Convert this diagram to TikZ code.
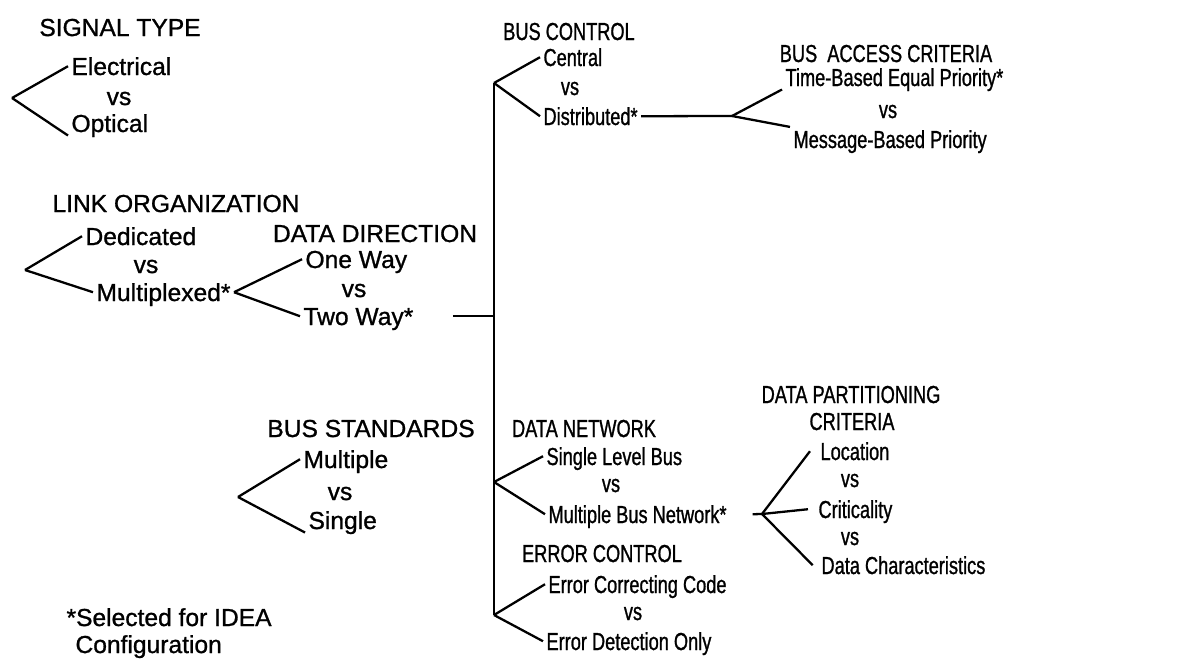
\documentclass[tikz,border=0pt]{standalone}
\usepackage{fontspec}
\setmainfont[FakeBold=1]{Liberation Sans}
\newfontfamily\narrowfont[FakeStretch=0.74,FakeBold=1]{Liberation Sans}
\usepackage{tikz}

\begin{document}
\begin{tikzpicture}
[x=0.02cm,y=-0.02cm,
  lineDecorate/.style={-,line width=1.3pt},%
  textDecorate/.style={inner sep=0pt,outer sep=2pt,text height=10pt,text depth=0pt,
    font=\fontsize{14}{17}\selectfont},
  narrowDecorate/.style={textDecorate,font=\narrowfont\fontsize{14}{17}\selectfont},
  lhead/.style={textDecorate,anchor=base},
  lopt/.style={textDecorate,anchor=base west},
  rhead/.style={narrowDecorate,anchor=base},
  ropt/.style={narrowDecorate,anchor=base west}]
\useasboundingbox (0,0) rectangle (1196,663);
%% headings, options and vs
\foreach \nodename/\x/\y/\sty/\txt in {
  sigtype/120/36/lhead/SIGNAL TYPE,
  elec/68/75/lopt/Electrical,
  vsA/119/105/lhead/vs,
  opt/68/132/lopt/Optical,
  linkorg/176/212/lhead/LINK ORGANIZATION,
  ded/82/245/lopt/Dedicated,
  vsB/146/273/lhead/vs,
  mux/93/301/lopt/Multiplexed*,
  datadir/375/242/lhead/DATA DIRECTION,
  oneway/302/268/lopt/One Way,
  vsC/354/297/lhead/vs,
  twoway/300/325/lopt/Two Way*,
  busstd/371/437/lhead/BUS STANDARDS,
  multi/300/468/lopt/Multiple,
  vsD/340/500/lhead/vs,
  single/305/529/lopt/Single,
  selnote/63/626/lopt/*Selected for IDEA,
  confnote/72/653/lopt/Configuration,
  busctl/569/40/rhead/BUS CONTROL,
  central/540/66/ropt/Central,
  vsE/570/95/rhead/vs,
  distrib/540/125/ropt/Distributed*,
  bac/886/62/rhead/BUS\ \ ACCESS CRITERIA,
  timeb/782/86/ropt/Time-Based Equal Priority*,
  vsF/888/118/rhead/vs,
  msgb/790/148/ropt/Message-Based Priority,
  datanet/584/437/rhead/DATA NETWORK,
  slbus/543/465/ropt/Single Level Bus,
  vsG/611/492/rhead/vs,
  mbnet/545/523/ropt/Multiple Bus Network*,
  dpartA/851/403/rhead/DATA PARTITIONING,
  dpartB/852/430/rhead/CRITERIA,
  loc/817/460/ropt/Location,
  vsH/850/487/rhead/vs,
  crit/815/518/ropt/Criticality,
  vsI/850/545/rhead/vs,
  datach/818/574/ropt/Data Characteristics,
  errctl/602/562/rhead/ERROR CONTROL,
  ecc/545/593/ropt/Error Correcting Code,
  vsJ/633/620/rhead/vs,
  edo/543/650/ropt/Error Detection Only}
{
  \node (\nodename) at (\x,\y) [\sty] {\txt};
}
%% branch points
\foreach \nodename/\x/\y in {
  sigapex/12/98, linkapex/25/270, stdapex/238/497,
  ctlapex/494/83, netapex/494/482, errapex/494/615,
  bacapex/732/116, dpapex/762/514}
{
  \coordinate (\nodename) at (\x,\y);
}
\coordinate (twostub) at ([xshift=0.72cm]twoway.east);
\coordinate (mbnstub) at ([xshift=0.45cm]mbnet.east);
%% edges or lines
\foreach \startnode/\endnode in {
  sigapex/elec.west, sigapex/opt.south west,
  linkapex/ded.west, linkapex/mux.west,
  mux.east/oneway.west, mux.east/twoway.west,
  stdapex/multi.west, stdapex/single.south west,
  ctlapex/central.west, ctlapex/distrib.west,
  distrib.east/bacapex,
  bacapex/timeb.south west, bacapex/msgb.north west,
  netapex/slbus.west, netapex/mbnet.west,
  errapex/ecc.west, errapex/edo.west,
  ctlapex/errapex, mbnstub/dpapex}
{
  \draw[lineDecorate] (\startnode) -- (\endnode);
}
\draw[lineDecorate] (twostub) -- (twostub -| ctlapex);
\draw[lineDecorate] (dpapex) -- ([xshift=-4pt]loc.west);
\draw[lineDecorate] (dpapex) -- ([xshift=-4pt]crit.west);
\draw[lineDecorate] (dpapex) -- ([xshift=-3pt]datach.west);
\end{tikzpicture}
\end{document}
